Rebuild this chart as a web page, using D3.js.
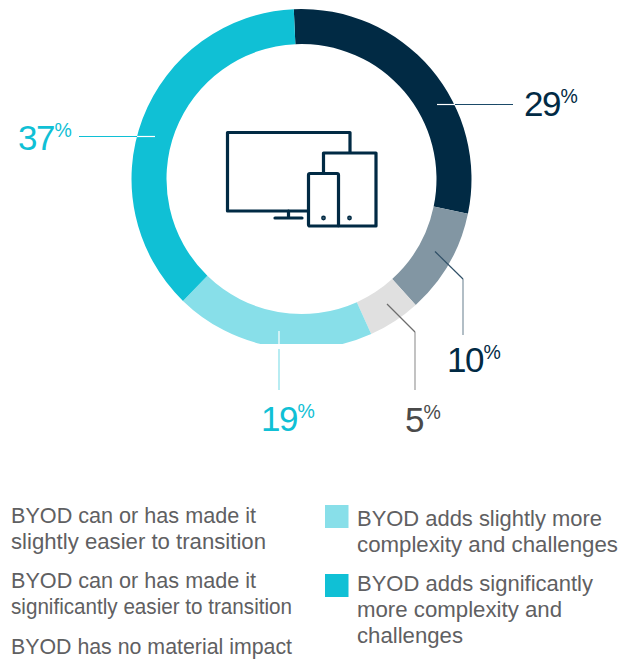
<!DOCTYPE html>
<html>
<head>
<meta charset="utf-8">
<script src="https://cdn.jsdelivr.net/npm/d3@7"></script>
<style>
html,body{margin:0;padding:0;background:#fff}
svg{display:block}
text{font-family:"Liberation Sans",Arial,sans-serif}
</style>
</head>
<body>
<svg id="chart" width="620" height="662"></svg>
<script>
// Survey responses: how BYOD affects the transition
const categories = [
  "BYOD can or has made it slightly easier to transition",
  "BYOD can or has made it significantly easier to transition",
  "BYOD has no material impact",
  "BYOD adds slightly more complexity and challenges",
  "BYOD adds significantly more complexity and challenges"
];
const shares = [29, 10, 5, 19, 37];
const sliceColors = ["#012a44", "#8296a3", "#e0e0e0", "#88dfe9", "#10c0d5"];
const labelColors = ["#012a44", "#012a44", "#4a4a4a", "#10c0d5", "#10c0d5"];

const legendLinesLeft = [
  ["BYOD can or has made it", "slightly easier to transition"],
  ["BYOD can or has made it", "significantly easier to transition"],
  ["BYOD has no material impact"]
];
const legendLinesRight = [
  ["BYOD adds slightly more", "complexity and challenges"],
  ["BYOD adds significantly", "more complexity and", "challenges"]
];

const svg = d3.select("#chart");
const cx = 301.5, cy = 179, outerR = 170, innerR = 135;
const iconColor = "#012a44";

// Ring, trimmed flat along its lower edge
const defs = svg.append("defs");
defs.append("clipPath").attr("id", "ringClip")
  .append("rect").attr("width", 620).attr("height", 344);

const startAngle = -2.6 * Math.PI / 180;
const pie = d3.pie().sort(null).startAngle(startAngle).endAngle(startAngle + 2 * Math.PI);
const arc = d3.arc().innerRadius(innerR).outerRadius(outerR);

svg.append("g").attr("clip-path", "url(#ringClip)")
  .selectAll("path").data(pie(shares)).join("path")
  .attr("transform", `translate(${cx},${cy})`)
  .attr("d", arc)
  .attr("fill", (d, i) => sliceColors[i]);

// Leader lines: an inner piece over the ring and an outer piece to the label
const leaders = [
  {inner: [[437, 104.5], [455, 104.5]], innerColor: "#ffffff", outer: [[455, 104.5], [513, 104.5]], outerColor: "#1b4a68"},
  {inner: [[435, 251.5], [463, 279]], innerColor: "#2f4f66", outer: [[463, 279], [463, 335]], outerColor: "#7f93a0"},
  {inner: [[387, 304], [415, 332]], innerColor: "#6d6d6d", outer: [[415, 332], [415, 390]], outerColor: "#9a9a9a"},
  {inner: [[279, 331], [279, 344]], innerColor: "#ffffff", outer: [[279, 349], [279, 390]], outerColor: "#88dfe9"},
  {inner: [[137, 136.5], [155, 136.5]], innerColor: "#ffffff", outer: [[79, 136.5], [137, 136.5]], outerColor: "#10c0d5"}
];
const line = d3.line();
const leaderG = svg.append("g").attr("fill", "none").attr("stroke-width", 1.2);
leaders.forEach(l => {
  leaderG.append("path").attr("d", line(l.outer)).attr("stroke", l.outerColor);
  leaderG.append("path").attr("d", line(l.inner)).attr("stroke", l.innerColor);
});

// Percentage callouts
const labelSpots = [[524, 116], [447, 372], [405, 432], [261, 431], [18, 150]];
const labelG = svg.append("g");
shares.forEach((v, i) => {
  const t = labelG.append("text")
    .attr("x", labelSpots[i][0]).attr("y", labelSpots[i][1])
    .attr("fill", labelColors[i]).attr("font-size", 35).attr("letter-spacing", -1.5);
  t.append("tspan").text(v);
  t.append("tspan").attr("font-size", 19.5).attr("dy", -13).attr("dx", 0.5).attr("letter-spacing", 0).text("%");
});

// Device icon: monitor, tablet and phone
const icon = svg.append("g").attr("fill", "none").attr("stroke", iconColor)
  .attr("stroke-width", 3.2).attr("stroke-linejoin", "round").attr("stroke-linecap", "round");
icon.append("path").attr("d", "M350 152V132.5H227.5V211H308");
icon.append("path").attr("d", "M323.5 173V153H376V226H339");
icon.append("rect").attr("x", 308.5).attr("y", 173.5).attr("width", 30).attr("height", 52.5).attr("rx", 1.5);
icon.append("path").attr("d", "M288.5 211V218M275 218H302");
icon.append("circle").attr("cx", 323.5).attr("cy", 218).attr("r", 0.8).attr("fill", iconColor);
icon.append("circle").attr("cx", 349.5).attr("cy", 218).attr("r", 0.8).attr("fill", iconColor);

// Legend text columns and the two swatches on the right
const legendColor = "#5f6062";
const leftBaselines = [[523, 548.5], [588, 614], [654]];
const rightBaselines = [[525.5, 551.5], [591, 617, 642.5]];
const leftWidths = [[245, 255], [245, 281], [281]];
const rightWidths = [[245, 261], [236, 205, 106]];
const swatchTops = [505, 574];
const legend = svg.append("g").attr("font-size", 21.6).attr("fill", legendColor);

// Each line is fitted to its own column measure
const addLine = (s, x, y, w) => legend.append("text")
  .attr("x", x).attr("y", y)
  .attr("textLength", w).attr("lengthAdjust", "spacingAndGlyphs")
  .text(s);

legendLinesLeft.forEach((lines, i) => lines.forEach((s, j) => {
  addLine(s, 11, leftBaselines[i][j], leftWidths[i][j]);
}));
legendLinesRight.forEach((lines, i) => {
  legend.append("rect").attr("x", 325).attr("y", swatchTops[i]).attr("width", 23.5).attr("height", 23)
    .attr("fill", sliceColors[i + 3]);
  lines.forEach((s, j) => {
    addLine(s, 357, rightBaselines[i][j], rightWidths[i][j]);
  });
});
</script>
</body>
</html>
